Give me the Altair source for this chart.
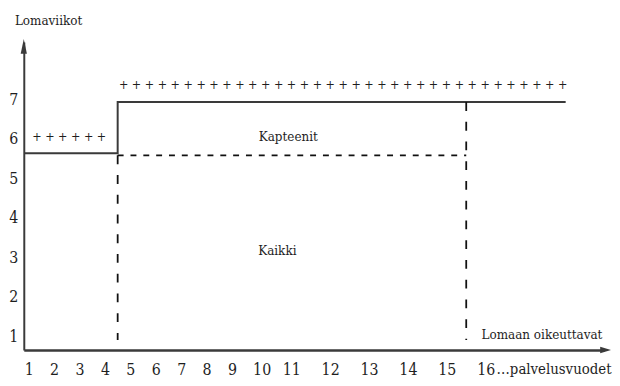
import altair as alt
import pandas as pd

# ---- values ----
tick_years = list(range(1, 17))          # x tick labels (service years)
tick_weeks = [1, 2, 3, 4, 5, 6, 7]       # y tick labels (vacation weeks)

# solid step line (all)
step_x = [0.85, 4.5, 4.5, 18.06]
step_y = [5.63, 5.63, 6.93, 6.93]
step_order = [0, 1, 2, 3]

# dashed horizontal line (captains)
dash_x = [4.5, 15.5]
dash_y = [5.58, 5.58]

# dashed vertical boundaries
vert_x = [4.5, 15.5]
vert_top = [5.58, 6.93]
vert_bottom = [0.9, 0.9]

# annotation texts
labels = ["Lomaviikot", "Kapteenit", "Kaikki", "Lomaan oikeuttavat"]
label_x = [1.78, 10.9, 10.53, 17.45]
label_y = [8.98, 6.05, 3.15, 1.03]

# rows of plus signs
plus_counts = [35, 6]
plus_x = [4.55, 1.14]
plus_y = [7.35, 6.05]

suffix_text = "…palvelusvuodet"
suffix_x = [16.28]
suffix_y = [0.35]

# ---- tables ----
step_df = pd.DataFrame({"x": step_x, "y": step_y, "o": step_order})
dash_df = pd.DataFrame({"x": dash_x, "y": dash_y})
vert_df = pd.DataFrame({"x": vert_x, "y": vert_top, "y2": vert_bottom})
label_df = pd.DataFrame({"t": labels, "x": label_x, "y": label_y})
plus_df = pd.DataFrame({"t": [" ".join(["+"] * n) for n in plus_counts],
                        "x": plus_x, "y": plus_y})
suffix_df = pd.DataFrame({"t": [suffix_text], "x": suffix_x, "y": suffix_y})

FONT = "DejaVu Serif Condensed, serif"
INK = "#1e1e1e"
LINE = "#3a3a3a"

xscale = alt.Scale(domain=[0.806, 1, 9, 11, 16, 19.05],
                   range=[0, 5, 211, 271, 468, 588], nice=False, zero=False)
yscale = alt.Scale(domain=[0.65, 8.45], nice=False, zero=False)

x_axis = alt.Axis(values=tick_years, format="d", title=None, grid=False, ticks=False,
                  domainColor=LINE, domainWidth=2.5, labelFont=FONT, labelFontSize=16,
                  labelColor=INK, labelPadding=12, labelOverlap=False, labelFlush=False)
y_axis = alt.Axis(values=tick_weeks, format="d", title=None, grid=False, ticks=False,
                  domainColor=LINE, domainWidth=2, labelFont=FONT, labelFontSize=16,
                  labelColor=INK, labelPadding=6, labelOverlap=False, labelFlush=False)


def X():
    return alt.X("x:Q", scale=xscale, axis=x_axis)


def Y():
    return alt.Y("y:Q", scale=yscale, axis=y_axis)


step = alt.Chart(step_df).mark_line(color=LINE, strokeWidth=2).encode(
    x=X(), y=Y(), order="o:Q",
)

dash = alt.Chart(dash_df).mark_line(color="#111111", strokeWidth=1.8, strokeDash=[6, 7]).encode(
    x=X(), y=Y(),
)

vert = alt.Chart(vert_df).mark_rule(color="#111111", strokeWidth=1.8, strokeDash=[9, 11]).encode(
    x=X(), y=Y(), y2="y2:Q",
)

texts = alt.Chart(label_df).mark_text(font=FONT, fontSize=13.5, color=INK, align="center",
                                      baseline="middle").encode(
    x=X(), y=Y(), text="t:N",
)

pluses = alt.Chart(plus_df).mark_text(font=FONT, fontSize=12.6, color=INK, align="left",
                                      baseline="middle").encode(
    x=X(), y=Y(), text="t:N",
)

suffix = alt.Chart(suffix_df).mark_text(font=FONT, fontSize=15, color=INK, align="left",
                                        baseline="top").encode(
    x=X(), y=Y(), text="t:N",
)

arrow_up = alt.Chart(pd.DataFrame({"a": [0]})).mark_point(
    shape="M0,-1L0.42,1L-0.42,1Z", size=225, filled=True, color=LINE, opacity=1
).encode(x=alt.value(0), y=alt.value(4.5))

arrow_right = alt.Chart(pd.DataFrame({"a": [0]})).mark_point(
    shape="M1,0L-1,-0.6L-1,0.6Z", size=121, filled=True, color=LINE, opacity=1
).encode(x=alt.value(589.5), y=alt.value(312))

chart = alt.layer(step, dash, vert, texts, pluses, suffix, arrow_up, arrow_right).properties(
    width=588, height=312,
    padding={"left": 16, "top": 32, "right": 8, "bottom": 26},
    autosize="none",
    background="white",
).configure_view(stroke=None)

chart.save("out.html", embed_options={"renderer": "svg", "actions": False})
